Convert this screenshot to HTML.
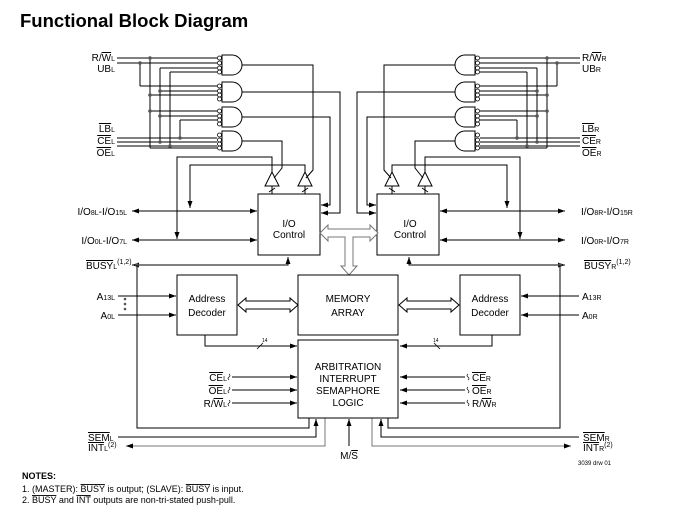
<!DOCTYPE html>
<html><head><meta charset="utf-8"><style>
body{margin:0;background:#fff;}
svg{display:block;font-family:"Liberation Sans",Arial,sans-serif;}
.t{font-size:10px;fill:#000;}
.s{font-size:7px;}
</style></head><body>
<svg width="697" height="512" viewBox="0 0 697 512" xmlns="http://www.w3.org/2000/svg">
<defs>
<marker id="a" markerWidth="8" markerHeight="6" refX="7" refY="3" orient="auto" markerUnits="userSpaceOnUse"><path d="M0,0.5 L7,3 L0,5.5z" fill="#000"/></marker>
<marker id="b" markerWidth="8" markerHeight="6" refX="1" refY="3" orient="auto" markerUnits="userSpaceOnUse"><path d="M8,0.5 L1,3 L8,5.5z" fill="#000"/></marker>
<g id="half" fill="none" stroke="#000" stroke-width="1">
  <g>
    <path d="M222,55 h10 a10,10 0 0 1 0,20 h-10 z"/>
    <path d="M222,82 h10 a10,10 0 0 1 0,20 h-10 z"/>
    <path d="M222,107 h10 a10,10 0 0 1 0,20 h-10 z"/>
    <path d="M222,131 h10 a10,10 0 0 1 0,20 h-10 z"/>
  </g>
  <g stroke-width="0.8">
    <circle cx="219.5" cy="58" r="2"/><circle cx="219.5" cy="63" r="2"/><circle cx="219.5" cy="68" r="2"/><circle cx="219.5" cy="72" r="2"/>
    <circle cx="219.5" cy="86" r="2"/><circle cx="219.5" cy="91" r="2"/><circle cx="219.5" cy="95" r="2"/><circle cx="219.5" cy="99" r="2"/>
    <circle cx="219.5" cy="111" r="2"/><circle cx="219.5" cy="116" r="2"/><circle cx="219.5" cy="120" r="2"/><circle cx="219.5" cy="124" r="2"/>
    <circle cx="219.5" cy="135" r="2"/><circle cx="219.5" cy="140" r="2"/><circle cx="219.5" cy="144" r="2"/><circle cx="219.5" cy="148" r="2"/>
  </g>
  <path d="M117,58 H217 M117,63 H217 M160,68 H217 M170,72 H217
           M140,86 H217 M160,91 H217 M150,95 H217
           M150,111 H217 M160,116 H217 M180,120 H217
           M117,138 H217 M117,142 H217 M117,146 H217 M150,148 H217"/>
  <path d="M140,63 V86 M150,58 V148 M160,68 V142 M170,72 V146 M180,120 V138"/>
  <g fill="#555" stroke="none">
    <circle cx="140" cy="63" r="1.8"/><circle cx="150" cy="58" r="1.8"/><circle cx="160" cy="91" r="1.8"/><circle cx="150" cy="95" r="1.8"/>
    <circle cx="150" cy="111" r="1.8"/><circle cx="160" cy="116" r="1.8"/><circle cx="180" cy="138" r="1.8"/><circle cx="160" cy="142" r="1.8"/><circle cx="170" cy="146" r="1.8"/>
  </g>
  <path d="M242,65 H313 V170 L306,178"/>
  <path d="M242,92 H340 V213 H321" marker-end="url(#a)"/>
  <path d="M242,117 H330 V205 H321" marker-end="url(#a)"/>
  <path d="M242,141 H282 V168 L274,178"/>
  <path d="M272,172 L265,186 H279 Z M305,172 L298,186 H312 Z"/>
  <path d="M272,186 V194 M305,186 V194 M269,192 L275,188 M302,192 L308,188"/>
  <path d="M272,172 V157 H177 V239" marker-end="url(#a)"/>
  <path d="M305,172 V165 H190 V208" marker-end="url(#a)"/>
  <rect x="258" y="194" width="62" height="61"/>
  <path d="M132,211 H257" marker-start="url(#b)" marker-end="url(#a)"/>
  <path d="M132,240 H257" marker-start="url(#b)" marker-end="url(#a)"/>
  <path d="M132,265 H288 V257" marker-start="url(#b)" marker-end="url(#a)"/>
  <circle cx="137" cy="265" r="1.8" fill="#555" stroke="none"/>
  <path d="M137,265 V428 H309 V418"/>
  <rect x="177" y="275" width="60" height="60"/>
  <path d="M118,296 H176" marker-end="url(#a)"/>
  <path d="M118,315 H176" marker-end="url(#a)"/>
  <path d="M205,335 V346 H297" marker-end="url(#a)"/>
  <path d="M257,349 L263,343" stroke-width="0.8"/>
  <path d="M238,305 L246,298 V301 H290 V298 L298,305 L290,312 V309 H246 V312 Z" fill="#fff"/>
  <path d="M232,377 H297" marker-end="url(#a)"/>
  <path d="M232,390 H297" marker-end="url(#a)"/>
  <path d="M232,403 H297" marker-end="url(#a)"/>
  <path d="M229,374 q2,1.5 0,3 q-2,1.5 0,3 M229,387 q2,1.5 0,3 q-2,1.5 0,3 M229,400 q2,1.5 0,3 q-2,1.5 0,3" stroke-width="0.7"/>
  <path d="M118,437 H316 V419" marker-end="url(#a)"/>
  <path d="M325,418 V446 H126" stroke="#777" marker-end="url(#a)"/>
</g>
</defs>

<text x="20" y="27" style="font-size:18.5px;font-weight:bold">Functional Block Diagram</text>

<use href="#half"/>
<use href="#half" transform="translate(697,0) scale(-1,1)"/>
<g fill="#555"><circle cx="125" cy="299" r="1.3"/><circle cx="125" cy="304" r="1.3"/><circle cx="125" cy="309" r="1.3"/></g>

<g fill="none" stroke="#000">
  <path d="M320,233 L328,225 V229 H370 V225 L378,233 L370,241 V237 H353 V266 H357 L349,275 L341,266 H345 V237 H328 V241 Z" fill="#fff" stroke="#777"/>
  <rect x="298" y="275" width="100" height="60" fill="#fff"/>
  <rect x="298" y="340" width="100" height="78" fill="#fff"/>
  <path d="M349,446 V419" marker-end="url(#a)"/>
</g>

<g class="t">
<text x="289" y="227" text-anchor="middle">I/O</text>
<text x="289" y="238" text-anchor="middle">Control</text>
<text x="410" y="227" text-anchor="middle">I/O</text>
<text x="410" y="238" text-anchor="middle">Control</text>
<text x="348" y="302" text-anchor="middle">MEMORY</text>
<text x="348" y="316" text-anchor="middle">ARRAY</text>
<text x="207" y="302" text-anchor="middle">Address</text>
<text x="207" y="316" text-anchor="middle">Decoder</text>
<text x="490" y="302" text-anchor="middle">Address</text>
<text x="490" y="316" text-anchor="middle">Decoder</text>
<text x="348" y="370" text-anchor="middle">ARBITRATION</text>
<text x="348" y="382" text-anchor="middle">INTERRUPT</text>
<text x="348" y="394" text-anchor="middle">SEMAPHORE</text>
<text x="348" y="406" text-anchor="middle">LOGIC</text>

<text x="115" y="61" text-anchor="end">R/<tspan text-decoration="overline">W</tspan><tspan class="s">L</tspan></text>
<text x="115" y="72" text-anchor="end">UB<tspan class="s">L</tspan></text>
<text x="115" y="132" text-anchor="end"><tspan text-decoration="overline">LB</tspan><tspan class="s">L</tspan></text>
<text x="115" y="144" text-anchor="end"><tspan text-decoration="overline">CE</tspan><tspan class="s">L</tspan></text>
<text x="115" y="156" text-anchor="end"><tspan text-decoration="overline">OE</tspan><tspan class="s">L</tspan></text>
<text x="582" y="61">R/<tspan text-decoration="overline">W</tspan><tspan class="s">R</tspan></text>
<text x="582" y="72">UB<tspan class="s">R</tspan></text>
<text x="582" y="132"><tspan text-decoration="overline">LB</tspan><tspan class="s">R</tspan></text>
<text x="582" y="144"><tspan text-decoration="overline">CE</tspan><tspan class="s">R</tspan></text>
<text x="582" y="156"><tspan text-decoration="overline">OE</tspan><tspan class="s">R</tspan></text>

<text x="127" y="215" text-anchor="end">I/O<tspan class="s">8L</tspan>-I/O<tspan class="s">15L</tspan></text>
<text x="127" y="244" text-anchor="end">I/O<tspan class="s">0L</tspan>-I/O<tspan class="s">7L</tspan></text>
<text x="581" y="215">I/O<tspan class="s">8R</tspan>-I/O<tspan class="s">15R</tspan></text>
<text x="581" y="244">I/O<tspan class="s">0R</tspan>-I/O<tspan class="s">7R</tspan></text>
<text x="86" y="269"><tspan text-decoration="overline">BUSY</tspan><tspan class="s">L</tspan><tspan class="s" dy="-5">(1,2)</tspan></text>
<text x="584" y="269"><tspan text-decoration="overline">BUSY</tspan><tspan class="s">R</tspan><tspan class="s" dy="-5">(1,2)</tspan></text>

<text x="115" y="300" text-anchor="end">A<tspan class="s">13L</tspan></text>
<text x="115" y="319" text-anchor="end">A<tspan class="s">0L</tspan></text>
<text x="582" y="300">A<tspan class="s">13R</tspan></text>
<text x="582" y="319">A<tspan class="s">0R</tspan></text>
<text x="262" y="342" style="font-size:5px">14</text>
<text x="433" y="342" style="font-size:5px">14</text>

<text x="227" y="381" text-anchor="end"><tspan text-decoration="overline">CE</tspan><tspan class="s">L</tspan></text>
<text x="227" y="394" text-anchor="end"><tspan text-decoration="overline">OE</tspan><tspan class="s">L</tspan></text>
<text x="227" y="407" text-anchor="end">R/<tspan text-decoration="overline">W</tspan><tspan class="s">L</tspan></text>
<text x="472" y="381"><tspan text-decoration="overline">CE</tspan><tspan class="s">R</tspan></text>
<text x="472" y="394"><tspan text-decoration="overline">OE</tspan><tspan class="s">R</tspan></text>
<text x="472" y="407">R/<tspan text-decoration="overline">W</tspan><tspan class="s">R</tspan></text>

<text x="88" y="441"><tspan text-decoration="overline">SEM</tspan><tspan class="s">L</tspan></text>
<text x="88" y="451"><tspan text-decoration="overline">INT</tspan><tspan class="s">L</tspan><tspan class="s" dy="-4">(2)</tspan></text>
<text x="583" y="441"><tspan text-decoration="overline">SEM</tspan><tspan class="s">R</tspan></text>
<text x="583" y="451"><tspan text-decoration="overline">INT</tspan><tspan class="s">R</tspan><tspan class="s" dy="-4">(2)</tspan></text>
<text x="349" y="459" text-anchor="middle">M/<tspan text-decoration="overline">S</tspan></text>
<text x="578" y="465" style="font-size:6px">3039 drw 01</text>

<text x="22" y="479" style="font-size:9px;font-weight:bold">NOTES:</text>
<text x="22" y="492" style="font-size:9px">1.  (MASTER): <tspan text-decoration="overline">BUSY</tspan> is output; (SLAVE): <tspan text-decoration="overline">BUSY</tspan> is input.</text>
<text x="22" y="503" style="font-size:9px">2.  <tspan text-decoration="overline">BUSY</tspan> and <tspan text-decoration="overline">INT</tspan> outputs are non-tri-stated push-pull.</text>
</g>
</svg>
</body></html>
